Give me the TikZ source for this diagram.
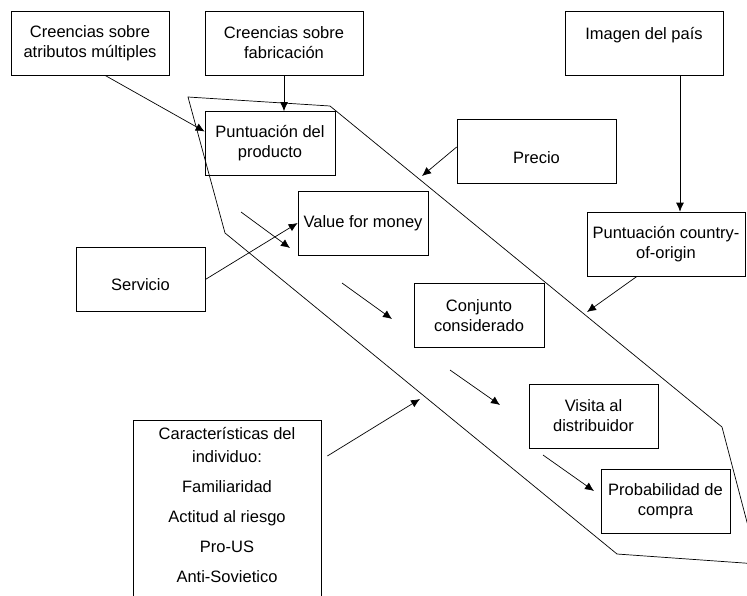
\documentclass[tikz,border=0pt]{standalone}
\usepackage{fontspec}
\setmainfont{Liberation Sans}
\usepackage{tikz}
\usetikzlibrary{positioning}
\usetikzlibrary{arrows.meta}
\tikzset {
  % wider boxes in the top row
  wide/.style = {minimum width=158pt},
  % arrow between two boxes
  link/.style = {-{Latex[length=9pt, width=8pt]}},
  % steps inside the funnel
  step arrow/.style = {link},
}

\begin{document}
\begin{tikzpicture}[x=1pt, y=-1pt, line width=0.7pt, font=\fontsize{16.5pt}{20pt}\selectfont, main/.style = {draw, rectangle, align=center, inner sep=0pt, minimum width=130pt, minimum height=64pt}]
      \useasboundingbox (0,0) rectangle (747,595);
      \clip (0,0) rectangle (747,595);

      \node[main, wide] (1) at (90,43) {Creencias sobre\\atributos múltiples};

      \node[main, wide] (2) at (284,43) {Creencias sobre\\fabricación};

      \node[main, wide] (3) at (644,43) {Imagen del país\\~};

      \node[main] (4) at (270,143.5) {Puntuación del\\producto};

      \node[main, minimum width=159pt, text height=24pt, text depth=0pt] (5) at (536.5,151) {Precio};

      \node[main] (6) at (363,223) {Value for money};

      \node[main, minimum width=129pt, text height=22pt, text depth=0pt] (7) at (140.5,279.5) {Servicio};

      \node[main, wide] (8) at (666,244) {Puntuación country-\\of-origin};

      \node[main] (9) at (479,315.5) {Conjunto\\considerado};

      \node[main, minimum width=129pt] (10) at (593.5,416) {Visita al\\distribuidor};

      \node[main, minimum width=129pt] (11) at (665.5,501.5) {Probabilidad de\\compra};

      \node[main, minimum width=188pt, inner ysep=7pt, anchor=north] (12) at (227,420) {Características del\\[3pt]individuo:\\[10pt]Familiaridad\\[10pt]Actitud al riesgo\\[10pt]Pro-US\\[10pt]Anti-Sovietico\\[10pt]~};

      \coordinate (p1) at (422,176);
      \coordinate (p2) at (587,312);
      \coordinate (p3) at (420,399);

      \coordinate (s1) at (241,212);
      \coordinate (e1) at (290,248);
      \coordinate (s2) at (342,283);
      \coordinate (e2) at (392,319);
      \coordinate (s3) at (450,370);
      \coordinate (e3) at (500,405);
      \coordinate (s4) at (543,455);
      \coordinate (e4) at (594,491);

      \draw (188,97) -- (330,106) -- (722,427) -- (758,564) -- (617,554) -- (225,233) -- cycle;

      \draw[link] ([xshift=15pt]1.south) -- ([yshift=12pt]4.west);
      \draw[link] (2.south) -- (2.south |- 4.north);
      \draw[link] ([xshift=36pt]3.south) -- ([xshift=14pt]8.north);
      \draw[link] ([yshift=4pt]5.west) -- (p1);
      \draw[link] ([xshift=-29pt]8.south) -- (p2);
      \draw[link] (7.east) -- (6.west);
      \draw[link] ([shift={(6pt,-36pt)}]12.north east) -- (p3);

      \draw[step arrow] (s1) -- (e1);
      \draw[step arrow] (s2) -- (e2);
      \draw[step arrow] (s3) -- (e3);
      \draw[step arrow] (s4) -- (e4);
    \end{tikzpicture}
\end{document}
